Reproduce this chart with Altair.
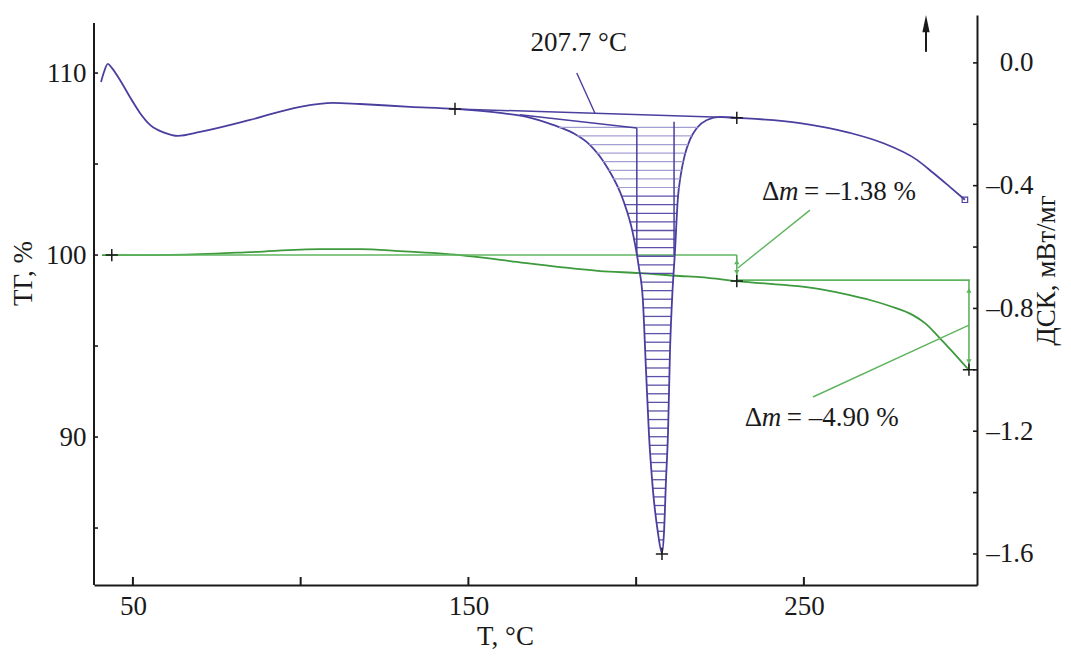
import altair as alt
import numpy as np
import pandas as pd

FONT = "Liberation Serif"
BLUE = "#4a3f9f"
BLUE_LIGHT = "#a49fd3"
GREEN = "#3d9a3d"
GREEN_LIGHT = "#5fb45f"
INK = "#1a1a1a"
FS = 27

W, H = 883, 570

# axis ranges
T_DOMAIN = [38.4, 301.6]
TG_DOMAIN = [81.87, 113.19]
DSC_DOMAIN = [-1.701, 0.156]
LEFT_AXIS_TOP = 112.75

# ---- DSC curve (mW/mg) ----
DSC_T = [40.5, 41.4, 42.5, 43.7, 46.1, 49.1, 52.1, 55.1, 59.5, 63.4,
         70.0, 84.9, 99.8, 109.6, 117.7, 132.6, 146.0, 159.4, 167.4, 175.2,
         181.1, 186.2, 191.3, 196.1, 199.0, 200.8, 202.0, 202.9, 203.8, 205.0,
         206.5, 207.7, 208.3, 208.9, 209.5, 210.1, 210.7, 211.6, 212.4, 213.3,
         214.5, 216.0, 218.1, 221.1, 225.0, 230.0, 248.8, 263.7, 273.5, 283.7,
         288.5, 293.5, 298.0]
DSC_V = [-0.062, -0.029, -0.003, -0.016, -0.055, -0.111, -0.163, -0.202, -0.228, -0.238,
         -0.225, -0.186, -0.143, -0.130, -0.134, -0.143, -0.150, -0.163, -0.176, -0.202,
         -0.228, -0.267, -0.339, -0.446, -0.554, -0.665, -0.772, -0.991, -1.206, -1.391,
         -1.531, -1.597, -1.531, -1.359, -1.206, -0.935, -0.772, -0.609, -0.446, -0.365,
         -0.300, -0.251, -0.212, -0.186, -0.176, -0.179, -0.196, -0.228, -0.261, -0.316,
         -0.358, -0.404, -0.446]

# ---- TG curve (%) ----
TG_T = [40.8, 55.1, 70.0, 84.9, 105.7, 117.7, 129.6, 147.5, 162.4, 177.3,
        189.2, 201.1, 213.0, 219.0, 230.0, 254.8, 263.7, 269.7, 275.6, 282.5,
        286.1, 290.5, 294.4, 298.9]
TG_V = [100.0, 100.0, 100.05, 100.16, 100.33, 100.33, 100.22, 100.0, 99.67, 99.34,
        99.12, 99.01, 98.85, 98.79, 98.57, 98.13, 97.80, 97.53, 97.20, 96.70,
        96.26, 95.44, 94.67, 93.74]

# mass-loss step construction (TG scale)
STEP_X1 = [43.7, 230.0, 230.0, 299.2]
STEP_Y1 = [100.0, 100.0, 98.62, 98.62]
STEP_X2 = [230.0, 230.0, 299.5, 299.2]
STEP_Y2 = [100.0, 98.62, 98.62, 93.72]

# pointer lines to the Δm labels (TG scale)
PTR_X1 = [230.3, 299.2]
PTR_Y1 = [99.29, 96.15]
PTR_X2 = [251.8, 252.7]
PTR_Y2 = [102.47, 92.20]

# arrow heads on the step verticals (TG scale)
ARW_T = [230.0, 230.0, 299.2, 299.2]
ARW_V = [99.62, 99.05, 98.05, 94.15]
ARW_SHAPE = ["triangle-up", "triangle-down", "triangle-up", "triangle-down"]

# '+' markers
TG_MARK_T = [43.7, 230.0, 299.2]
TG_MARK_V = [100.0, 98.57, 93.70]
DSC_MARK_T = [146.0, 230.0, 207.7]
DSC_MARK_V = [-0.150, -0.179, -1.600]

# Δm labels (TG scale, left edge of text)
DM_T = [237.5, 232.4]
DM_V = [103.46, 91.04]
DM_TEXT = ["= –1.38 %", "= –4.90 %"]

# DSC integration construction lines
DL_X1 = [146.0, 165.3, 200.2, 211.3]
DL_Y1 = [-0.150, -0.169, -0.212, -0.192]
DL_X2 = [230.0, 200.2, 200.2, 211.3]
DL_Y2 = [-0.179, -0.212, -0.626, -0.626]

# peak label
PK_T = [182.9]
PK_V = [0.065]
PK_TEXT = ["207.7 °C"]
PK_PTR = [182.3, -0.033, 187.7, -0.163]

# endo/exo arrow (DSC scale)
ARROW_T = [286.4]
ARROW_V1 = [0.036]
ARROW_V2 = [0.118]
ARROW_HEAD_V = [0.128]

# hatching levels inside the melting peak (mW/mg)
HATCH_LEVELS = [-0.210, -0.238, -0.266, -0.294, -0.322, -0.350, -0.378, -0.406, -0.434, -0.462,
                -0.490, -0.518, -0.546, -0.574, -0.602, -0.630, -0.658, -0.686, -0.714, -0.742,
                -0.770, -0.798, -0.826, -0.854, -0.882, -0.910, -0.938, -0.966, -0.994, -1.022,
                -1.050, -1.078, -1.106, -1.134, -1.162, -1.190, -1.218, -1.246, -1.274, -1.302,
                -1.330, -1.358, -1.386, -1.414, -1.442, -1.470, -1.498, -1.526, -1.554, -1.582]

# axis ticks
X_TICKS = [50, 100, 150, 200, 250]
X_LABELS = [50, 150, 250]
LEFT_TICKS = [85, 90, 95, 100, 105, 110]
LEFT_LABELS = [90, 100, 110]
RIGHT_TICKS = [0.0, -0.2, -0.4, -0.6, -0.8, -1.0, -1.2, -1.4, -1.6]
RIGHT_LABELS = [0.0, -0.4, -0.8, -1.2, -1.6]

# ---------- derived tables ----------
t_arr = np.array(DSC_T)
v_arr = np.array(DSC_V)
imin = int(np.argmin(v_arr))
idx = np.arange(len(t_arr))
lmask = (t_arr >= 167.0) & (idx <= imin)
rmask = (t_arr <= 221.2) & (idx >= imin)
lev = np.array(HATCH_LEVELS)
x_left = np.interp(lev, v_arr[lmask][::-1], t_arr[lmask][::-1])
x_right = np.interp(lev, v_arr[rmask], t_arr[rmask])
hatch = pd.DataFrame({"y": lev, "x1": x_left, "x2": x_right})
hatch_light = hatch[hatch["y"] > -0.43]
hatch_dark = hatch[hatch["y"] <= -0.43]

xs = alt.Scale(domain=T_DOMAIN, nice=False, zero=False)
tgs = alt.Scale(domain=TG_DOMAIN, nice=False, zero=False)
dss = alt.Scale(domain=DSC_DOMAIN, nice=False, zero=False)

text_common = dict(titleFont=FONT, titleFontSize=FS, titleFontWeight="normal", titleColor=INK,
                   labelFont=FONT, labelFontSize=FS, labelColor=INK, grid=False,
                   ticks=False, tickSize=0)

x_axis = alt.Axis(values=X_LABELS, domainColor=INK, domainWidth=2, labelPadding=8,
                  labelFlush=False, title="T, °C", titleX=411, titleY=51,
                  titleAlign="center", titleBaseline="middle", **text_common)
left_axis = alt.Axis(values=LEFT_LABELS, domain=False, labelPadding=8,
                     title="ТГ, %", titleAngle=270, titleX=-71, titleY=258,
                     titleAlign="center", titleBaseline="middle", **text_common)
right_axis = alt.Axis(orient="right", values=RIGHT_LABELS, domainColor=INK, domainWidth=2,
                      labelAlign="right", labelPadding=56,
                      labelExpr="datum.value == 0 ? '0.0' : '–' + format(abs(datum.value), '.1f')",
                      title="ДСК, мВт/мг", titleAngle=270, titleX=69, titleY=255,
                      titleAlign="center", titleBaseline="middle", **text_common)


def X(f):
    return alt.X(f, type="quantitative", scale=xs, axis=x_axis)


def YT(f):
    return alt.Y(f, type="quantitative", scale=tgs, axis=left_axis)


def YD(f):
    return alt.Y(f, type="quantitative", scale=dss, axis=right_axis)


PLUS = "M-1,0L1,0M0,-1L0,1"
HEAD = "M0,-1L0.42,1L-0.42,1Z"

# ---------- TG group (left scale) ----------
tg_df = pd.DataFrame({"T": TG_T, "v": TG_V})
tg_line = alt.Chart(tg_df).mark_line(color=GREEN, strokeWidth=1.8, interpolate="monotone").encode(
    x=X("T"), y=YT("v"))

steps = alt.Chart(pd.DataFrame({"x1": STEP_X1, "y1": STEP_Y1, "x2": STEP_X2, "y2": STEP_Y2})).mark_rule(
    color=GREEN_LIGHT, strokeWidth=1.6).encode(x=X("x1"), x2="x2", y=YT("y1"), y2="y2")

ptrs = alt.Chart(pd.DataFrame({"x1": PTR_X1, "y1": PTR_Y1, "x2": PTR_X2, "y2": PTR_Y2})).mark_rule(
    color=GREEN_LIGHT, strokeWidth=1.4).encode(x=X("x1"), x2="x2", y=YT("y1"), y2="y2")

arw = alt.Chart(pd.DataFrame({"T": ARW_T, "v": ARW_V, "s": ARW_SHAPE})).mark_point(
    filled=True, color=GREEN_LIGHT, size=28, opacity=1).encode(
    x=X("T"), y=YT("v"), shape=alt.Shape("s:N", scale=None, legend=None))

tg_plus = alt.Chart(pd.DataFrame({"T": TG_MARK_T, "v": TG_MARK_V})).mark_point(
    shape=PLUS, filled=False, color=INK, strokeWidth=1.5, size=150, opacity=1).encode(
    x=X("T"), y=YT("v"))

dm_df = pd.DataFrame({"T": DM_T, "v": DM_V, "txt": DM_TEXT, "d": ["Δ", "Δ"], "m": ["m", "m"]})
dm_delta = alt.Chart(dm_df).mark_text(font=FONT, fontSize=FS, color=INK, align="left",
                                      baseline="middle").encode(x=X("T"), y=YT("v"), text="d:N")
dm_m = alt.Chart(dm_df).mark_text(font=FONT, fontSize=FS, color=INK, align="left", fontStyle="italic",
                                  baseline="middle", dx=17).encode(x=X("T"), y=YT("v"), text="m:N")
dm_rest = alt.Chart(dm_df).mark_text(font=FONT, fontSize=FS, color=INK, align="left",
                                     baseline="middle", dx=42).encode(x=X("T"), y=YT("v"), text="txt:N")

left_ticks = alt.Chart(pd.DataFrame({"v": LEFT_TICKS})).mark_rule(color=INK, strokeWidth=1.6).encode(
    y=YT("v"), x=alt.value(0), x2=alt.value(4))
bottom_ticks = alt.Chart(pd.DataFrame({"T": X_TICKS})).mark_rule(color=INK, strokeWidth=2).encode(
    x=X("T"), y=alt.value(H), y2=alt.value(H - 8))
left_domain = alt.Chart(pd.DataFrame({"a": [TG_DOMAIN[0]], "b": [LEFT_AXIS_TOP]})).mark_rule(
    color=INK, strokeWidth=2).encode(y=YT("a"), y2="b", x=alt.value(0))

left_group = alt.layer(tg_line, steps, ptrs, arw, tg_plus, dm_delta, dm_m, dm_rest,
                       left_ticks, bottom_ticks, left_domain)

# ---------- DSC group (right scale) ----------
dsc_df = pd.DataFrame({"T": DSC_T, "v": DSC_V})
dsc_line = alt.Chart(dsc_df).mark_line(color=BLUE, strokeWidth=1.8, interpolate="monotone").encode(
    x=X("T"), y=YD("v"))

h_light = alt.Chart(hatch_light).mark_rule(color=BLUE_LIGHT, strokeWidth=1.2).encode(
    x=X("x1"), x2="x2", y=YD("y"))
h_dark = alt.Chart(hatch_dark).mark_rule(color=BLUE, strokeWidth=1.3, opacity=0.9).encode(
    x=X("x1"), x2="x2", y=YD("y"))

dlines = alt.Chart(pd.DataFrame({"x1": DL_X1, "y1": DL_Y1, "x2": DL_X2, "y2": DL_Y2})).mark_rule(
    color=BLUE, strokeWidth=1.5).encode(x=X("x1"), x2="x2", y=YD("y1"), y2="y2")

pk_ptr = alt.Chart(pd.DataFrame({"x1": [PK_PTR[0]], "y1": [PK_PTR[1]], "x2": [PK_PTR[2]], "y2": [PK_PTR[3]]})).mark_rule(
    color=BLUE, strokeWidth=1.4).encode(x=X("x1"), x2="x2", y=YD("y1"), y2="y2")

pk_text = alt.Chart(pd.DataFrame({"T": PK_T, "v": PK_V, "txt": PK_TEXT})).mark_text(
    font=FONT, fontSize=FS, color=INK, align="center", baseline="middle").encode(
    x=X("T"), y=YD("v"), text="txt:N")

dsc_plus = alt.Chart(pd.DataFrame({"T": DSC_MARK_T, "v": DSC_MARK_V})).mark_point(
    shape=PLUS, filled=False, color=INK, strokeWidth=1.5, size=150, opacity=1).encode(
    x=X("T"), y=YD("v"))

end_sq = alt.Chart(pd.DataFrame({"T": [DSC_T[-1]], "v": [DSC_V[-1]]})).mark_point(
    shape="square", filled=False, color=BLUE, size=30, strokeWidth=1.2, opacity=1).encode(
    x=X("T"), y=YD("v"))

arrow_shaft = alt.Chart(pd.DataFrame({"T": ARROW_T, "a": ARROW_V1, "b": ARROW_V2})).mark_rule(
    color=INK, strokeWidth=2).encode(x=X("T"), y=YD("a"), y2="b")
arrow_head = alt.Chart(pd.DataFrame({"T": ARROW_T, "v": ARROW_HEAD_V})).mark_point(
    shape=HEAD, filled=True, color=INK, size=300, opacity=1).encode(x=X("T"), y=YD("v"))

right_ticks = alt.Chart(pd.DataFrame({"v": RIGHT_TICKS})).mark_rule(color=INK, strokeWidth=1.6).encode(
    y=YD("v"), x=alt.value(W), x2=alt.value(W - 4))

right_group = alt.layer(dsc_line, h_light, h_dark, dlines, pk_ptr, pk_text, dsc_plus, end_sq,
                        arrow_shaft, arrow_head, right_ticks)

chart = alt.layer(left_group, right_group).resolve_scale(y="independent").properties(
    width=W, height=H,
    autosize=alt.AutoSizeParams(type="none"),
    padding={"left": 86, "top": 7, "right": 85, "bottom": 66},
    background="white",
).configure_view(stroke=None)

chart.save("out.html", embed_options={"renderer": "svg", "actions": False})
